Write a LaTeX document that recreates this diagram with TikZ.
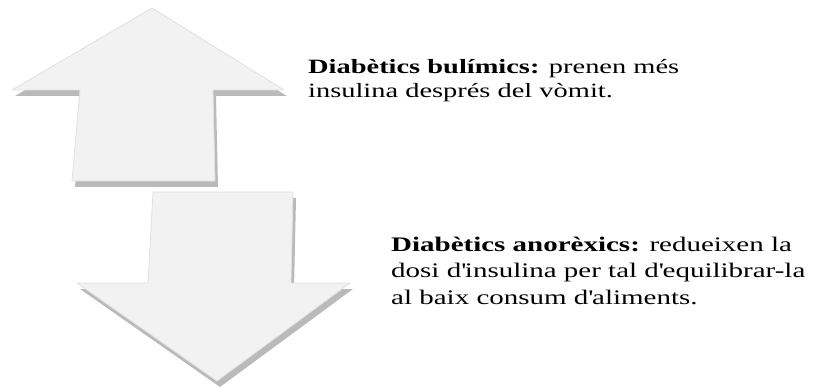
\documentclass[tikz,border=0pt]{standalone}
\usepackage{fontspec}
\setmainfont[FakeStretch=1.4]{Liberation Serif}
\usetikzlibrary{shadows}

\newcommand{\apos}{\textquotesingle}

\tikzset{
  bigarrow/.style={fill=black!5, draw=black!12, line width=0.8pt, line join=round,
    drop shadow={shadow xshift=3pt, shadow yshift=-6pt, fill=black!45, opacity=0.6}},
  caption/.style={anchor=base west, align=left, inner sep=0pt}
}

\begin{document}
\begin{tikzpicture}[x=1pt, y=-1pt]

\useasboundingbox (0,0) rectangle (826,387);

% up arrow
\draw[bigarrow] (152,8) -- (284,90) -- (213,90) -- (215,181) -- (72,181) -- (80,90) -- (12,90) -- cycle;

% down arrow
\draw[bigarrow] (153,192) -- (293,192) -- (291,283) -- (350,283) -- (217,381) -- (77,283) -- (148,283) -- cycle;

% base anchor sits on the last line
\node[caption, font=\fontsize{20.3}{23.7}\selectfont] (bulimics) at (308,97.7)
  {\textbf{Diabètics bulímics:} prenen més\\insulina després del vòmit.};

\node[caption, font=\fontsize{20.7}{26.7}\selectfont] (anorexics) at (391,304.4)
  {\textbf{Diabètics anorèxics:} redueixen la\\dosi d\apos insulina per tal d\apos equilibrar-la\\al baix consum d\apos aliments.};

\end{tikzpicture}
\end{document}
